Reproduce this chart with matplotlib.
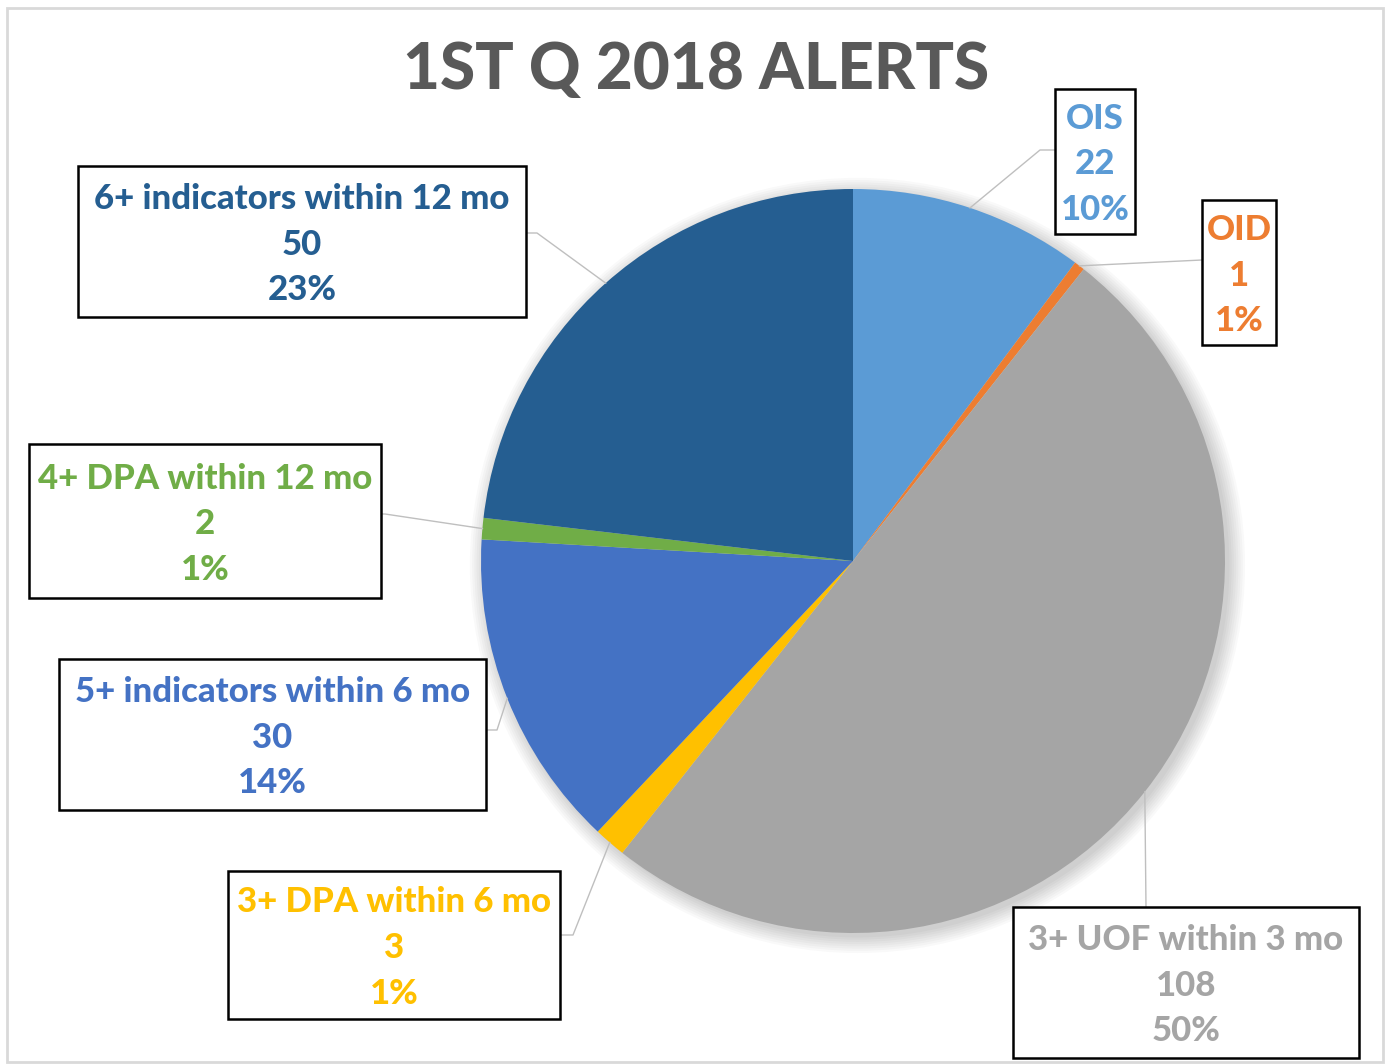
import numpy as np
import matplotlib.pyplot as plt
from matplotlib.patches import Rectangle, Circle
from matplotlib.lines import Line2D

# slices, clockwise from 12 o'clock
labels = ["OIS", "OID", "3+ UOF within 3 mo", "3+ DPA within 6 mo",
          "5+ indicators within 6 mo", "4+ DPA within 12 mo",
          "6+ indicators within 12 mo"]
counts = [22, 1, 108, 3, 30, 2, 50]
pcts = ["10%", "1%", "50%", "1%", "14%", "1%", "23%"]
colors = ["#5B9BD5", "#ED7D31", "#A5A5A5", "#FFC000",
          "#4472C4", "#70AD47", "#255E91"]

W, H = 1387, 1064
fig = plt.figure(figsize=(W / 100, H / 100), dpi=100)
plt.rcParams['font.family'] = ['Lato', 'DejaVu Sans']

# pixel helpers (origin top-left)
def fx(x):
    return x / W

def fy(y):
    return 1 - y / H

# outer chart frame
fig.patches.append(Rectangle((fx(7), fy(1062)), fx(1383) - fx(7), fy(8) - fy(1062),
                             transform=fig.transFigure, fill=False,
                             edgecolor="#D9D9D9", linewidth=2))

fig.text(fx(696), fy(71), "1ST Q 2018 ALERTS", ha="center", va="center",
         fontsize=46, fontweight=900, color="#595959")

# pie axes
cx, cy, r = 853, 561, 372
ax = fig.add_axes([fx(cx - r), fy(cy + r), 2 * r / W, 2 * r / H])
for k in range(8):
    ax.add_patch(Circle((0.012, -0.012), 1.0 + 0.006 * k, color="black",
                        alpha=0.025, linewidth=0, zorder=0, clip_on=False))
wedges, _ = ax.pie(counts, colors=colors, startangle=90, counterclock=False,
                   radius=1.0, wedgeprops=dict(linewidth=0))
ax.set_xlim(-1, 1)
ax.set_ylim(-1, 1)
ax.set_aspect("equal")
ax.axis("off")

# label boxes (left, top, right, bottom) in pixels
boxes = [(1055, 89, 1135, 234), (1202, 200, 1276, 345), (1013, 907, 1359, 1058),
         (228, 871, 560, 1019), (59, 659, 486, 810), (29, 444, 381, 598),
         (78, 166, 526, 317)]
# leader line points after the wedge edge
leaders = [[(1040, 150), (1055, 150)], [(1202, 260)], [(1146, 907)],
           [(573, 935), (560, 935)], [(497, 730), (486, 730)],
           [(385, 514), (381, 514)], [(537, 233), (526, 233)]]

for w, lab, n, p, col, b, pts in zip(wedges, labels, counts, pcts, colors, boxes, leaders):
    mid = np.deg2rad((w.theta1 + w.theta2) / 2)
    ex = cx + r * np.cos(mid)
    ey = cy - r * np.sin(mid)
    xs = [ex] + [q[0] for q in pts]
    ys = [ey] + [q[1] for q in pts]
    fig.lines.append(Line2D([fx(v) for v in xs], [fy(v) for v in ys],
                            transform=fig.transFigure, color="#BFBFBF", linewidth=1))
    l, t, rr, bb = b
    fig.patches.append(Rectangle((fx(l), fy(bb)), fx(rr) - fx(l), fy(t) - fy(bb),
                                 transform=fig.transFigure, facecolor="white",
                                 edgecolor="black", linewidth=1.8, zorder=3))
    xc = (l + rr) / 2
    yc = (t + bb) / 2 + 3
    for i, s in enumerate([lab, str(n), p]):
        fig.text(fx(xc), fy(yc + (i - 1) * 45.5), s, ha="center", va="center",
                 fontsize=25, fontweight=900, color=col, zorder=4)

fig.savefig("out.png", dpi=100)
